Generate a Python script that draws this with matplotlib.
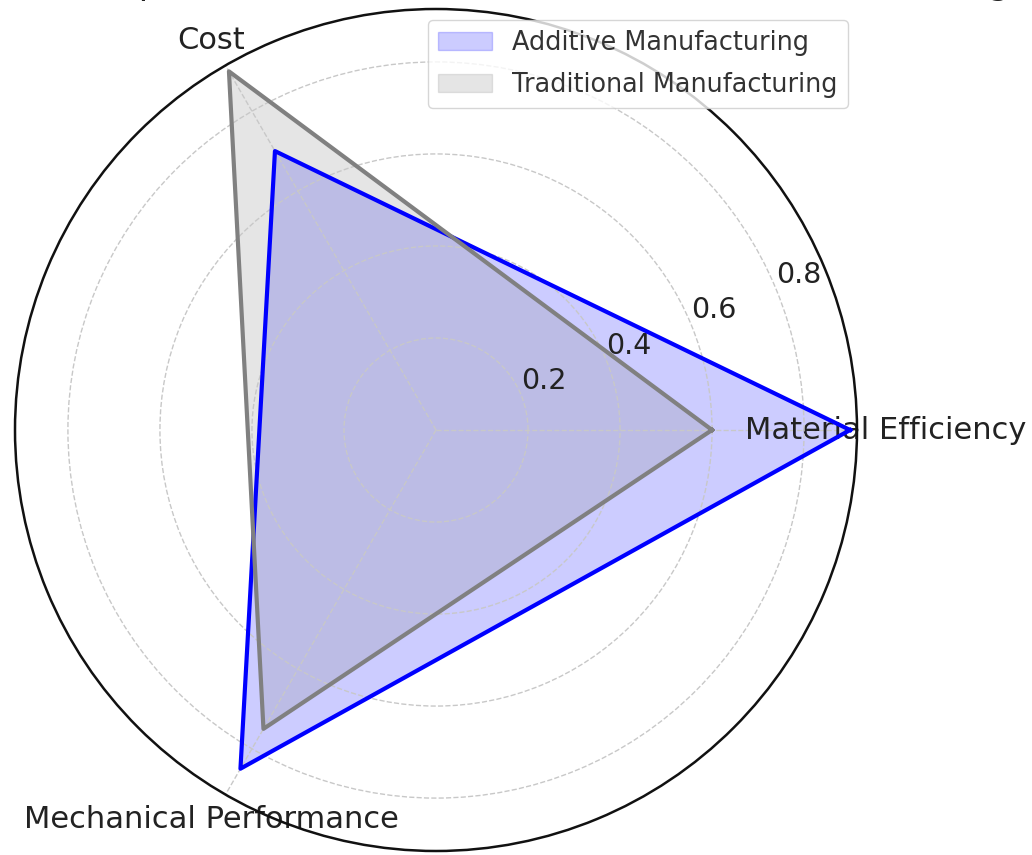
import numpy as np
import matplotlib
matplotlib.use("Agg")
import matplotlib.pyplot as plt

categories = ["Material Efficiency", "Cost", "Mechanical Performance"]
additive = [0.9, 0.7, 0.85]
traditional = [0.6, 0.9, 0.75]
rticks = [0.2, 0.4, 0.6, 0.8]
rtick_labels = ["0.2", "0.4", "0.6", "0.8"]
series_names = ["Additive Manufacturing", "Traditional Manufacturing"]
title = "Comparison of Additive and Traditional Manufacturing"

angles = np.linspace(0, 2 * np.pi, len(categories), endpoint=False).tolist()
angles_c = angles + angles[:1]
add_c = additive + additive[:1]
trad_c = traditional + traditional[:1]

fig = plt.figure(figsize=(10.32, 8.55), dpi=100)
ax = fig.add_axes([15 / 1032, 4 / 855, 842 / 1032, 842 / 855], polar=True)

ax.fill(angles_c, add_c, color="blue", alpha=0.2, label=series_names[0])
ax.plot(angles_c, add_c, color="blue", linewidth=3)
ax.fill(angles_c, trad_c, color="gray", alpha=0.2, label=series_names[1])
ax.plot(angles_c, trad_c, color="gray", linewidth=3)

ax.set_ylim(0, 0.915)
ax.set_xticks(angles)
ax.set_xticklabels(categories, fontsize=22, color="#222222")
ax.tick_params(axis="x", pad=10)
ax.set_yticks(rticks)
ax.set_yticklabels(rtick_labels, fontsize=20.5, color="#222222")
ax.grid(True, linestyle="--", color="#c8c8c8", linewidth=1)
ax.spines["polar"].set_linewidth(1.8)
ax.spines["polar"].set_color("#111111")

leg = ax.legend(loc="upper right", bbox_to_anchor=(848 / 1032, 1 - 20 / 855),
                bbox_transform=fig.transFigure, borderaxespad=0, fontsize=18.4,
                labelspacing=0.6, handlelength=2.1)
for t in leg.get_texts():
    t.set_color("#333333")

fig.text(0.518, 1 + 6 / 855, title, ha="center", va="baseline",
         fontsize=25.4, color="#222222")

fig.savefig("out.png", dpi=100)
